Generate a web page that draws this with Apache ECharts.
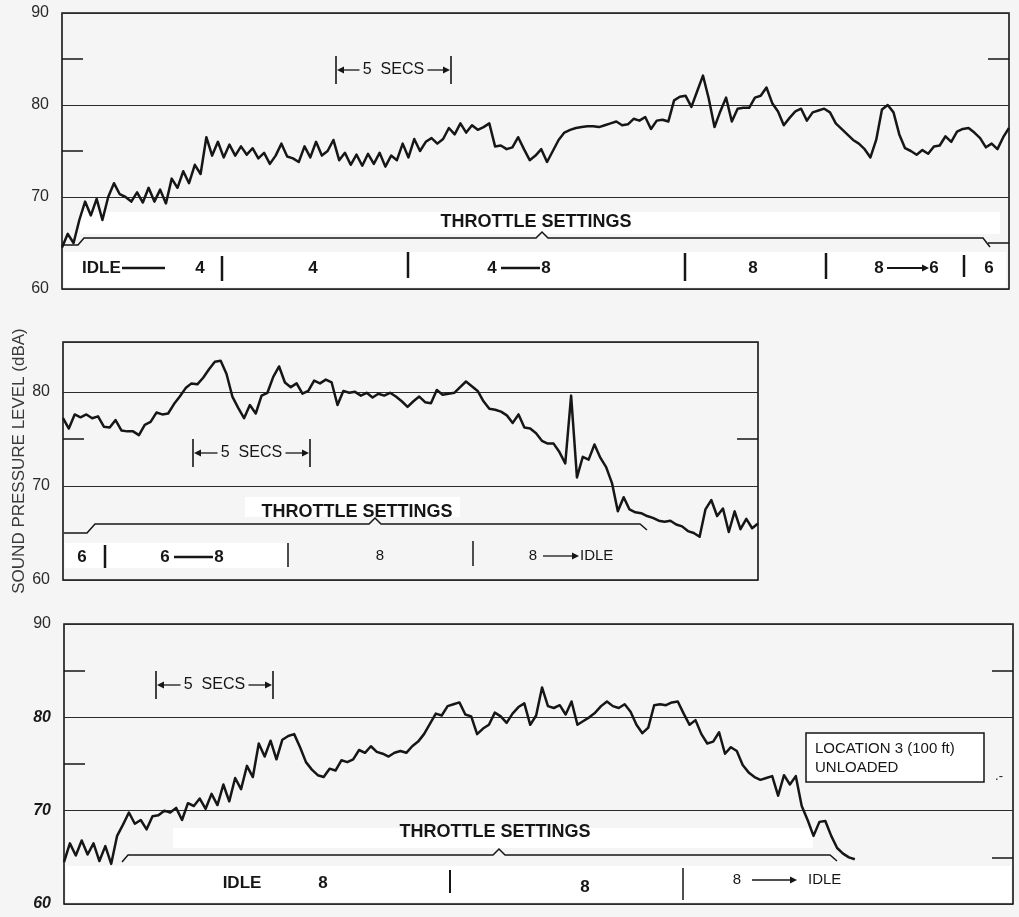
<!DOCTYPE html>
<html>
<head>
<meta charset="utf-8">
<script src="https://cdn.jsdelivr.net/npm/echarts@6/dist/echarts.min.js"></script>
<style>
html, body { margin: 0; padding: 0; background: #f5f5f5; }
#chart { width: 1019px; height: 917px; }
</style>
</head>
<body>
<div id="chart"></div>
<script>
// sample spacing of the traces, seconds
const step = 0.25;

// sound level (dBA), one value per 0.25 s
const p1Level = [
  64.5, 66, 65, 67.5, 69.5, 68, 69.8, 67.5, 70, 71.5,
  70.3, 70, 69.5, 70.5, 69.4, 71, 69.5, 70.8, 69.3, 72,
  71, 72.8, 71.5, 73.5, 72.5, 76.5, 74.5, 76, 74.3, 75.7,
  74.5, 75.5, 74.6, 75.3, 74.2, 74.8, 73.6, 74.5, 75.8, 74.4,
  74.2, 73.8, 75.5, 74.3, 76, 74.5, 75, 76.2, 74, 74.8,
  73.5, 74.6, 73.4, 74.7, 73.6, 74.8, 73.3, 74.5, 74, 75.8,
  74.3, 76.3, 75, 76, 76.4, 75.8, 76.3, 77.5, 76.8, 78,
  77, 77.8, 77.3, 77.6, 78, 75.5, 75.6, 75.2, 75.4, 76.5,
  75.2, 74, 74.5, 75.2, 73.8, 75, 76.2, 77, 77.3, 77.5,
  77.6, 77.7, 77.7, 77.6, 77.8, 78, 78.2, 77.8, 77.9, 78.5,
  78.3, 78.7, 77.4, 78.3, 78.4, 78.2, 80.5, 80.9, 81, 79.8,
  81.5, 83.2, 80.7, 77.6, 79.3, 80.8, 78.2, 79.6, 79.7, 79.7,
  80.8, 81, 81.9, 80.2, 79.3, 77.8, 78.6, 79.3, 79.6, 78.3,
  79.2, 79.4, 79.6, 79.2, 78, 77.4, 76.8, 76.2, 75.8, 75.2,
  74.3, 76.2, 79.5, 80, 79.2, 76.8, 75.3, 75, 74.6, 75.1,
  74.7, 75.5, 75.6, 76.6, 76, 77.1, 77.4, 77.5, 77, 76.4,
  75.4, 75.8, 75.2, 76.5, 77.5
];
const p2Level = [
  77.2, 76.1, 77.6, 77.3, 77.6, 77.2, 77.4, 76.3, 76.2, 77,
  75.9, 75.8, 75.8, 75.4, 76.5, 76.8, 77.8, 77.6, 77.7, 78.7,
  79.5, 80.4, 80.9, 80.8, 81.5, 82.4, 83.2, 83.3, 81.9, 79.5,
  78.3, 77.2, 78.6, 77.7, 79.6, 79.9, 81.6, 82.7, 81, 80.5,
  80.9, 79.8, 80.1, 81.2, 80.9, 81.3, 81, 78.6, 80.1, 79.9,
  80, 79.6, 79.9, 79.4, 79.8, 79.6, 79.9, 79.5, 79, 78.4,
  79, 79.5, 78.9, 78.8, 80.2, 79.7, 79.8, 79.9, 80.5, 81.1,
  80.6, 80.1, 79, 78.2, 78.1, 77.9, 77.5, 76.7, 77.6, 76.2,
  76.1, 75.6, 74.8, 74.5, 74.5, 73.6, 72.4, 79.6, 70.9, 73.1,
  72.8, 74.4, 73, 72, 70.3, 67.3, 68.8, 67.5, 67.2, 67.1,
  66.8, 66.6, 66.3, 66.2, 66.3, 65.9, 65.7, 65.2, 65, 64.6,
  67.5, 68.5, 66.8, 67.6, 65.1, 67.3, 65.4, 66.5, 65.5, 66
];
const p3Level = [
  64.5, 66.5, 65.2, 66.8, 65.3, 66.5, 64.6, 66.2, 64.3, 67.3,
  68.5, 69.8, 68.6, 69, 68, 69.4, 69.5, 70, 69.8, 70.3,
  69, 70.8, 70.5, 71.3, 70.2, 71.8, 70.6, 72.8, 71, 73.5,
  72.3, 74.8, 73.6, 77.2, 75.8, 77.5, 75.5, 77.6, 78, 78.2,
  76.8, 75.2, 74.4, 73.8, 73.6, 74.5, 74.3, 75.4, 75.2, 75.5,
  76.5, 76.2, 76.9, 76.3, 76.1, 75.8, 76.2, 76.4, 76.2, 76.9,
  77.4, 78.2, 79.3, 80.4, 80.2, 81.2, 81.4, 81.6, 80.3, 80.1,
  78.2, 78.8, 79.2, 80.5, 80.1, 79.4, 80.4, 81.1, 81.5, 79.2,
  80.2, 83.2, 81.2, 81, 81.3, 80.3, 81.7, 79.2, 79.6, 80,
  80.5, 81.2, 81.7, 81.2, 81, 81.4, 80.6, 79.2, 78.3, 78.9,
  81.3, 81.4, 81.3, 81.6, 81.7, 80.4, 79.2, 79.7, 78.2, 77.2,
  77.4, 78.4, 76.1, 76.8, 76.4, 74.9, 74.1, 73.6, 73.3, 73.5,
  73.7, 71.6, 73.8, 72.8, 73.7, 70.5, 69, 67.3, 68.8, 68.9,
  67.3, 66, 65.4, 65, 64.8
];

// time span shown in each strip, seconds
const spans = [41, 29.75, 40.2];
const yTop = [90, 85.3, 90];
const labelVals = [[60, 70, 80, 90], [60, 70, 80], [60, 70, 80, 90]];
const leftTicks = [[75, 85], [75], [75, 85]];
const rightTicks = [[65, 85], [75], [65, 85]];

const ink = '#161616';
const sans = '"Liberation Sans", Arial, sans-serif';

const toPairs = (arr) => arr.map((v, i) => [i * step, v]);

// ---- annotation helpers (pixel positions) ----
const G = [];
const seg = (x1, y1, x2, y2, w) => ({
  type: 'line', silent: true, z: 20,
  shape: { x1, y1, x2, y2 },
  style: { stroke: ink, lineWidth: w || 1.5 },
});
const poly = (points, w) => ({
  type: 'polyline', silent: true, z: 20,
  shape: { points },
  style: { stroke: ink, lineWidth: w || 1.5, fill: null },
});
const head = (x, y, dir) => {
  const d = dir === 'left' ? 7 : -7;
  return {
    type: 'polygon', silent: true, z: 20,
    shape: { points: [[x, y], [x + d, y - 3.5], [x + d, y + 3.5]] },
    style: { fill: ink },
  };
};
const txt = (text, x, y, font, align) => ({
  type: 'text', silent: true, z: 21, x, y,
  style: {
    text, font, fill: ink,
    align: align || 'center', verticalAlign: 'middle',
    textAlign: align || 'center', textVerticalAlign: 'middle',
  },
});
const rect = (x, y, w, h, fill) => ({
  type: 'rect', silent: true, z: 1,
  shape: { x, y, width: w, height: h },
  style: { fill },
});

const boldF = 'bold 17px ' + sans;
const thinF = '15px ' + sans;
const throttleF = 'bold 18px ' + sans;

function secs(xa, xb, y) {
  const mid = (xa + xb) / 2;
  G.push(seg(xa, y - 14, xa, y + 14, 1.6), seg(xb, y - 14, xb, y + 14, 1.6));
  G.push(seg(xa + 5, y, mid - 34, y, 1.3), head(xa + 1, y, 'left'));
  G.push(seg(mid + 34, y, xb - 5, y, 1.3), head(xb - 1, y, 'right'));
  G.push(txt('5  SECS', mid, y, '16px ' + sans));
}

// white paste-over strips
G.push(rect(80, 212, 920, 22, '#ffffff'));
G.push(rect(64, 252, 942, 35, '#ffffff'));
G.push(rect(65, 543, 222, 25, '#ffffff'));
G.push(rect(245, 497, 215, 20, '#ffffff'));
G.push(rect(173, 828, 640, 20, '#ffffff'));
G.push(rect(66, 866, 945, 36, '#ffffff'));

// panel 1
secs(336, 451, 70);
G.push(txt('THROTTLE SETTINGS', 536, 222, throttleF));
G.push(poly([[63, 245], [78, 245], [84, 238], [536, 238], [542, 232], [548, 238], [983, 238], [990, 247]]));
G.push(txt('IDLE', 82, 268, boldF, 'left'), seg(122, 268, 165, 268, 2.5), txt('4', 200, 268, boldF));
G.push(seg(222, 256, 222, 281, 2.5), txt('4', 313, 268, boldF));
G.push(seg(408, 252, 408, 278, 2.5));
G.push(txt('4', 492, 268, boldF), seg(501, 268, 540, 268, 2.5), txt('8', 546, 268, boldF));
G.push(seg(685, 253, 685, 281, 2.5), txt('8', 753, 268, boldF));
G.push(seg(826, 253, 826, 279, 2.5));
G.push(txt('8', 879, 268, boldF), seg(887, 268, 922, 268, 2), head(929, 268, 'right'), txt('6', 934, 268, boldF));
G.push(seg(964, 255, 964, 277, 2.5), txt('6', 989, 268, boldF));

// panel 2
secs(193, 310, 453);
G.push(txt('THROTTLE SETTINGS', 357, 512, throttleF));
G.push(rect(245, 519, 215, 4, '#f5f5f5'));
G.push(poly([[64, 533], [87, 533], [95, 524], [369, 524], [375, 518], [381, 524], [640, 524], [647, 530]]));
G.push(txt('6', 82, 557, boldF), seg(105, 545, 105, 568, 2.5));
G.push(txt('6', 165, 557, boldF), seg(174, 557, 213, 557, 2.5), txt('8', 219, 557, boldF));
G.push(seg(288, 543, 288, 567, 1.5), txt('8', 380, 556, thinF));
G.push(seg(473, 541, 473, 566, 1.5));
G.push(txt('8', 533, 556, thinF), seg(543, 556, 572, 556, 1.3), head(579, 556, 'right'), txt('IDLE', 580, 556, thinF, 'left'));

// panel 3
secs(156, 273, 685);
G.push(txt('THROTTLE SETTINGS', 495, 832, throttleF));
G.push(poly([[122, 862], [128, 855], [493, 855], [499, 849], [505, 855], [830, 855], [837, 861]]));
G.push(txt('IDLE', 242, 883, boldF), txt('8', 323, 883, boldF));
G.push(seg(450, 870, 450, 893, 2), txt('8', 585, 887, boldF));
G.push(seg(683, 868, 683, 900, 1.5));
G.push(txt('8', 737, 880, thinF), seg(752, 880, 790, 880, 1.3), head(797, 880, 'right'), txt('IDLE', 808, 880, thinF, 'left'));
G.push({
  type: 'rect', silent: true, z: 19,
  shape: { x: 806, y: 733, width: 178, height: 49 },
  style: { fill: '#ffffff', stroke: ink, lineWidth: 1.5 },
});
G.push(txt('LOCATION 3 (100 ft)', 815, 749, '15px ' + sans, 'left'));
G.push(txt('UNLOADED', 815, 768, '15px ' + sans, 'left'));
G.push(txt('.-', 999, 776, '13px ' + sans));

// shared y-axis title
G.push({
  type: 'text', silent: true, z: 21, x: 19, y: 461, rotation: Math.PI / 2,
  style: {
    text: 'SOUND PRESSURE LEVEL (dBA)', font: '17px ' + sans, fill: '#3a3a3a',
    align: 'center', verticalAlign: 'middle',
    textAlign: 'center', textVerticalAlign: 'middle',
  },
});

const grids = [
  { left: 62, top: 13, width: 947, height: 276 },
  { left: 63, top: 342, width: 695, height: 238 },
  { left: 64, top: 624, width: 949, height: 280 },
].map((g) => ({ ...g, show: true, borderColor: ink, borderWidth: 1.6, backgroundColor: 'transparent' }));

const xAxes = spans.map((s, i) => ({
  type: 'value', gridIndex: i, min: 0, max: s, show: false,
}));

// per strip: main axis (labels + grid lines), left minor ticks, right minor ticks
const yAxes = [];
const tickAxis = (i, pos, vals) => ({
  type: 'value', gridIndex: i, position: pos,
  min: 60, max: yTop[i],
  axisLine: { show: false },
  axisTick: { show: true, inside: true, length: 21, customValues: vals, lineStyle: { color: ink, width: 1.5 } },
  axisLabel: { show: false },
  splitLine: { show: false },
});
[0, 1, 2].forEach((i) => {
  yAxes.push({
    type: 'value', gridIndex: i, position: 'left',
    min: 60, max: yTop[i], interval: 10,
    axisLine: { show: false },
    axisTick: { show: false },
    axisLabel: {
      show: true, margin: 13, customValues: labelVals[i],
      fontFamily: sans, fontSize: 16, color: '#2a2a2a',
      formatter: i === 2 ? (v) => (v === 90 ? '{n|90}' : '{b|' + v + '}') : '{value}',
      rich: {
        n: { fontFamily: sans, fontSize: 16, color: '#2a2a2a' },
        b: { fontFamily: sans, fontSize: 16, fontStyle: 'italic', fontWeight: 'bold', color: '#1a1a1a' },
      },
    },
    splitLine: { show: true, lineStyle: { color: '#2b2b2b', width: 1.2 } },
  });
  yAxes.push(tickAxis(i, 'left', leftTicks[i]));
  yAxes.push(tickAxis(i, 'right', rightTicks[i]));
});

const levels = [p1Level, p2Level, p3Level];
const series = levels.map((arr, i) => ({
  type: 'line',
  xAxisIndex: i,
  yAxisIndex: i * 3,
  data: toPairs(arr),
  showSymbol: false,
  symbol: 'none',
  z: 10,
  lineStyle: { color: ink, width: 2.5, join: 'round' },
}));

const chart = echarts.init(document.getElementById('chart'));
chart.setOption({
  animation: false,
  backgroundColor: '#f5f5f5',
  grid: grids,
  xAxis: xAxes,
  yAxis: yAxes,
  series: series,
  graphic: { elements: G },
});
</script>
</body>
</html>
